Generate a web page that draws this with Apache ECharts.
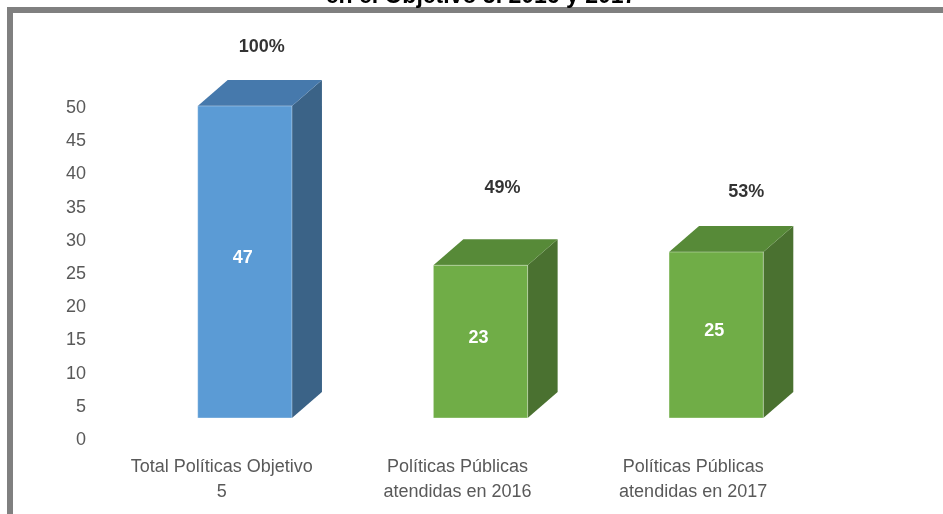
<!DOCTYPE html>
<html>
<head>
<meta charset="utf-8">
<script src="https://cdn.jsdelivr.net/npm/echarts@6/dist/echarts.min.js"></script>
<style>
  html, body { margin: 0; padding: 0; background: #fff; }
  #chart { width: 943px; height: 514px; }
</style>
</head>
<body>
<div id="chart"></div>
<script>
// data
var categories = ['Total Políticas Objetivo\n5', 'Políticas Públicas\natendidas en 2016', 'Políticas Públicas\natendidas en 2017'];
var values = [47, 23, 25];
var pctLabels = ['100%', '49%', '53%'];
var pctHeights = [59.2, 38, 37.4];   // where the % labels sit, in axis units
var yTicks = [0, 5, 10, 15, 20, 25, 30, 35, 40, 45, 50];

// look
var faceColors = [
  { front: '#5B9BD5', top: '#4679AC', side: '#3B6387' },
  { front: '#70AD47', top: '#578A38', side: '#4A7130' },
  { front: '#70AD47', top: '#578A38', side: '#4A7130' }
];
var pctOffsets = [40, 45, 53];
var shift = [23, -22];   // front face vs axis plane
var depth = [30, -26];   // back face vs front face

var chart = echarts.init(document.getElementById('chart'));

function renderBox(params, api) {
  var i = api.value(0);
  var base = api.coord([i, 0]);
  var top = api.coord([i, api.value(1)]);
  var w = api.size([1, 0])[0] * 0.4;
  var x = top[0] - w / 2 + shift[0];
  var y = top[1] + shift[1];
  var h = base[1] - top[1];
  var c = faceColors[i];
  return {
    type: 'group',
    children: [
      {
        type: 'polygon',
        shape: { points: [[x + w, y], [x + w + depth[0], y + depth[1]], [x + w + depth[0], y + h + depth[1]], [x + w, y + h]] },
        style: { fill: c.side }
      },
      {
        type: 'polygon',
        shape: { points: [[x, y], [x + w, y], [x + w + depth[0], y + depth[1]], [x + depth[0], y + depth[1]]] },
        style: { fill: c.top }
      },
      {
        type: 'rect',
        shape: { x: x, y: y, width: w, height: h },
        style: { fill: c.front, stroke: 'rgba(255,255,255,0.35)', lineWidth: 1 }
      },
      {
        type: 'text',
        x: x + w / 2 - 2,
        y: y + h / 2 - 4,
        style: {
          text: String(api.value(1)),
          fill: '#fff',
          font: 'bold 18px "Liberation Sans", Arial, sans-serif',
          align: 'center',
          verticalAlign: 'middle'
        }
      }
    ]
  };
}

chart.setOption({
  animation: false,
  graphic: [
    {
      type: 'rect',
      shape: { x: 10, y: 10, width: 1000, height: 600 },
      style: { fill: 'none', stroke: '#808080', lineWidth: 6 },
      z: 10
    },
    {
      type: 'text',
      x: 481,
      y: -3,
      z: 11,
      style: {
        text: 'en el Objetivo 5. 2016 y 2017',
        fill: '#000',
        font: 'bold 23px "Liberation Sans", Arial, sans-serif',
        align: 'center',
        verticalAlign: 'middle'
      }
    }
  ],
  grid: { left: 104, right: 132, top: 108, bottom: 74 },
  xAxis: {
    type: 'category',
    data: categories,
    axisLine: { show: false },
    axisTick: { show: false },
    splitLine: { show: false },
    axisLabel: {
      color: '#595959',
      fontSize: 18,
      lineHeight: 25,
      margin: 15,
      interval: 0,
      fontFamily: '"Liberation Sans", Arial, sans-serif'
    }
  },
  yAxis: {
    type: 'value',
    min: 0,
    max: 50,
    interval: 5,
    axisLine: { show: false },
    axisTick: { show: false },
    splitLine: { show: false },
    axisLabel: {
      color: '#595959',
      fontSize: 18,
      margin: 18,
      fontFamily: '"Liberation Sans", Arial, sans-serif',
      formatter: function (v) { return yTicks.indexOf(v) >= 0 ? String(v) : ''; }
    }
  },
  series: [
    {
      type: 'custom',
      renderItem: renderBox,
      clip: false,
      encode: { x: 0, y: 1 },
      data: values.map(function (v, i) { return [i, v]; })
    },
    {
      type: 'scatter',
      symbolSize: 0,
      silent: true,
      clip: false,
      data: pctHeights.map(function (h, i) {
        return {
          value: [i, h],
          label: { offset: [pctOffsets[i], 0] }
        };
      }),
      label: {
        show: true,
        position: 'inside',
        color: '#000',
        fontSize: 18,
        fontWeight: 'bold',
        fontFamily: '"Liberation Sans", Arial, sans-serif',
        formatter: function (p) { return pctLabels[p.dataIndex]; }
      }
    }
  ]
});
</script>
</body>
</html>
